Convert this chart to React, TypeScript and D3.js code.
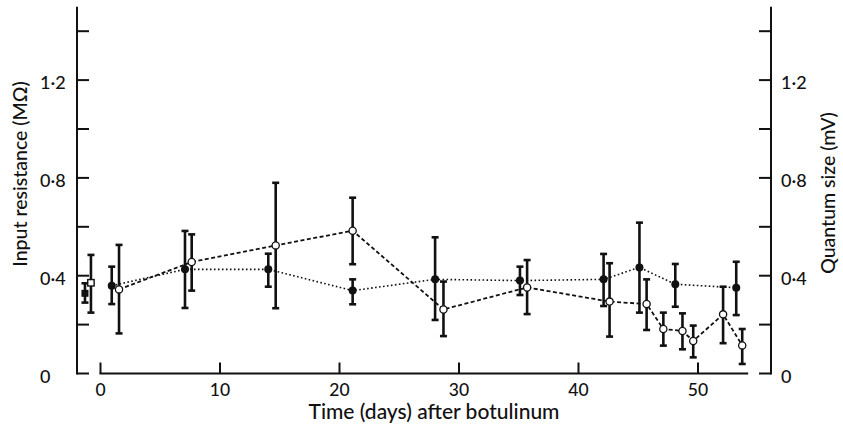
import React from "react";
import * as d3 from "d3";

// Control measurements (before treatment), drawn as squares left of day 0
const controlFilledDay = -1.3;
const controlFilledMean = 0.328;
const controlFilledHi = 0.369;
const controlFilledLo = 0.29;

const controlOpenDay = -0.8;
const controlOpenMean = 0.371;
const controlOpenHi = 0.485;
const controlOpenLo = 0.249;

// Input resistance (filled circles, dotted line)
const filledDays = [0.94, 7.07, 14.04, 21.1, 28.0, 35.1, 42.1, 45.1, 48.1, 53.2];
const filledMean = [0.359, 0.426, 0.426, 0.339, 0.385, 0.38, 0.385, 0.434, 0.365, 0.351];
const filledHi = [0.437, 0.583, 0.49, 0.385, 0.557, 0.437, 0.489, 0.617, 0.448, 0.457];
const filledLo = [0.284, 0.268, 0.355, 0.283, 0.219, 0.321, 0.276, 0.249, 0.273, 0.239];

// Quantum size (open circles, dashed line)
const openDays = [1.55, 7.63, 14.66, 21.1, 28.7, 35.7, 42.6, 45.7, 47.1, 48.7, 49.6, 52.1, 53.7];
const openMean = [0.344, 0.456, 0.524, 0.584, 0.262, 0.352, 0.294, 0.284, 0.182, 0.174, 0.133, 0.242, 0.115];
const openHi = [0.526, 0.569, 0.78, 0.719, 0.376, 0.464, 0.451, 0.385, 0.249, 0.246, 0.196, 0.355, 0.182];
const openLo = [0.164, 0.339, 0.267, 0.447, 0.153, 0.243, 0.151, 0.178, 0.114, 0.099, 0.066, 0.124, 0.039];

const xTickValues = [0, 10, 20, 30, 40, 50];
const xTickLabels = ["0", "10", "20", "30", "40", "50"];
const yMajorValues = [0, 0.4, 0.8, 1.2];
const yMajorLabels = ["0", "0·4", "0·8", "1·2"];
const yMinorValues = [0.2, 0.6, 1.0, 1.4];

const xTitle = "Time (days) after botulinum";
const yLeftTitle = "Input resistance (MΩ)";
const yRightTitle = "Quantum size (mV)";

const W = 843;
const H = 428;
const FONT = "Lato, 'Open Sans', sans-serif";
const INK = "#111";

export default function App() {
  const x = d3.scaleLinear().domain([0, 50]).range([100.5, 698]);
  const y = d3.scaleLinear().domain([0, 1.5]).range([373.5, 6.75]);

  const leftX = 77;
  const rightX = 771;
  const xAxisEnd = x(54.2);
  const axisY = y(0);

  const line = d3
    .line<[number, number]>()
    .x((d) => x(d[0]))
    .y((d) => y(d[1]));

  const filledPts: [number, number][] = filledDays.map((d, i) => [d, filledMean[i]]);
  const openPts: [number, number][] = openDays.map((d, i) => [d, openMean[i]]);

  const errBar = (d: number, lo: number, hi: number, key: string) => {
    const cx = x(d);
    const cap = 3.5;
    return (
      <g key={key} stroke={INK} strokeWidth={2.6}>
        <line x1={cx} x2={cx} y1={y(lo)} y2={y(hi)} />
        <line x1={cx - cap} x2={cx + cap} y1={y(hi)} y2={y(hi)} />
        <line x1={cx - cap} x2={cx + cap} y1={y(lo)} y2={y(lo)} />
      </g>
    );
  };

  const labelStyle = { fontWeight: 500 } as const;

  return (
    <svg
      width={W}
      height={H}
      style={{ position: "absolute", left: 0, top: 0, background: "#fff" }}
      fontFamily={FONT}
    >
      {/* left axis */}
      <g stroke={INK} strokeWidth={2}>
        <line x1={leftX} x2={leftX} y1={axisY + 1} y2={y(1.5)} />
        {yMajorValues.concat(yMinorValues).map((v) => (
          <line key={"lt" + v} x1={leftX} x2={leftX + 12} y1={y(v)} y2={y(v)} />
        ))}
      </g>
      {yMajorValues.map((v, i) => (
        <text
          key={"ll" + v}
          x={40}
          y={y(v)}
          dy="0.5em"
          fontSize={18}
          fill={INK}
          textAnchor="start"
          style={labelStyle}
        >
          {yMajorLabels[i]}
        </text>
      ))}
      <text
        transform={`translate(27,174) rotate(-90)`}
        textAnchor="middle"
        fontSize={19.5}
        fill={INK}
        style={labelStyle}
      >
        {yLeftTitle}
      </text>

      {/* right axis */}
      <g stroke={INK} strokeWidth={2}>
        <line x1={rightX} x2={rightX} y1={axisY + 1} y2={y(1.5)} />
        {yMajorValues.concat(yMinorValues).map((v) => (
          <line key={"rt" + v} x1={rightX - 12} x2={rightX} y1={y(v)} y2={y(v)} />
        ))}
      </g>
      {yMajorValues.map((v, i) => (
        <text
          key={"rl" + v}
          x={781}
          y={y(v)}
          dy="0.5em"
          fontSize={18}
          fill={INK}
          textAnchor="start"
          style={labelStyle}
        >
          {yMajorLabels[i]}
        </text>
      ))}
      <text
        transform={`translate(835,193) rotate(-90)`}
        textAnchor="middle"
        fontSize={19.5}
        fill={INK}
        style={labelStyle}
      >
        {yRightTitle}
      </text>

      {/* bottom axis */}
      <g stroke={INK} strokeWidth={2}>
        <line x1={x(0) - 1} x2={xAxisEnd} y1={axisY} y2={axisY} />
        {xTickValues.map((v) => (
          <line key={"xt" + v} x1={x(v)} x2={x(v)} y1={axisY} y2={axisY - 11} />
        ))}
      </g>
      {xTickValues.map((v, i) => (
        <text
          key={"xl" + v}
          x={x(v)}
          y={396}
          textAnchor="middle"
          fontSize={17.5}
          fill={INK}
          style={labelStyle}
        >
          {xTickLabels[i]}
        </text>
      ))}
      <text
        x={434}
        y={419}
        textAnchor="middle"
        fontSize={21}
        fill={INK}
        style={labelStyle}
      >
        {xTitle}
      </text>

      {/* connecting lines */}
      <path
        d={line(filledPts) || ""}
        fill="none"
        stroke={INK}
        strokeWidth={1.6}
        strokeDasharray="1.6,2.4"
      />
      <path
        d={line(openPts) || ""}
        fill="none"
        stroke={INK}
        strokeWidth={1.8}
        strokeDasharray="4,2.5"
      />

      {/* error bars */}
      {errBar(controlFilledDay, controlFilledLo, controlFilledHi, "cf")}
      {errBar(controlOpenDay, controlOpenLo, controlOpenHi, "co")}
      {filledDays.map((d, i) => errBar(d, filledLo[i], filledHi[i], "fe" + i))}
      {openDays.map((d, i) => errBar(d, openLo[i], openHi[i], "oe" + i))}

      {/* control markers */}
      <rect
        x={x(controlFilledDay) - 3.5}
        y={y(controlFilledMean) - 3.5}
        width={7}
        height={7}
        fill={INK}
      />
      <rect
        x={x(controlOpenDay) - 3.2}
        y={y(controlOpenMean) - 3.2}
        width={6.4}
        height={6.4}
        fill="#fff"
        stroke={INK}
        strokeWidth={1.4}
      />

      {/* markers */}
      {filledPts.map((p, i) => (
        <circle key={"fm" + i} cx={x(p[0])} cy={y(p[1])} r={4} fill={INK} />
      ))}
      {openPts.map((p, i) => (
        <circle
          key={"om" + i}
          cx={x(p[0])}
          cy={y(p[1])}
          r={3.6}
          fill="#fff"
          stroke={INK}
          strokeWidth={1.3}
        />
      ))}
    </svg>
  );
}
